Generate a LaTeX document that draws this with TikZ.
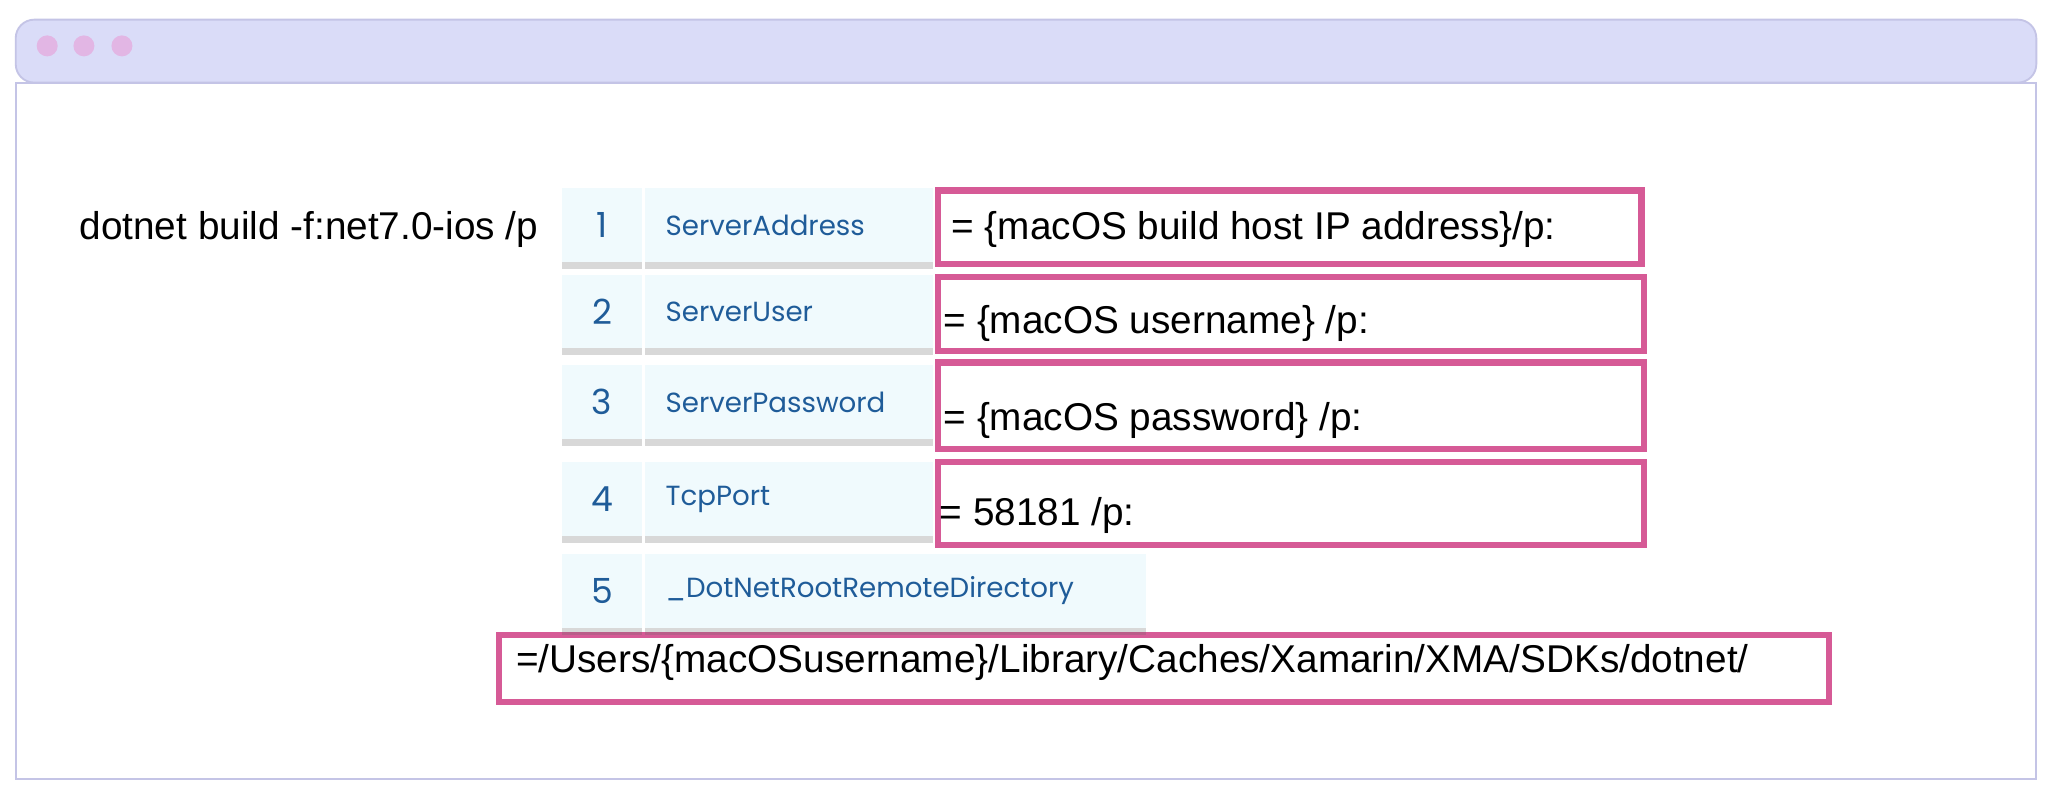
\documentclass[tikz,border=0pt]{standalone}
\usepackage{fontspec}
\setmainfont{Liberation Sans}
\newfontfamily\popfont{Poppins}
\usetikzlibrary{positioning, shadows}
\definecolor{barfill}{HTML}{DADCF8}
\definecolor{barline}{HTML}{C4C4E6}
\definecolor{cellfill}{HTML}{F0FAFD}
\definecolor{keyblue}{HTML}{1F5C99}
\definecolor{hotpink}{HTML}{D65A96}
\definecolor{dotpink}{HTML}{E2B6E4}
\begin{document}
\begin{tikzpicture}[x=0.01cm,y=-0.01cm]
\tikzstyle{cell}=[fill=cellfill,draw=none,inner sep=0pt,anchor=north west,
  drop shadow={shadow xshift=0pt,shadow yshift=-1.5pt,opacity=0.25,fill=black!60}]
\tikzstyle{num}=[cell,minimum width=0.61cm,minimum height=0.56cm,font=\popfont\fontsize{7.5}{9}\selectfont,text=keyblue]
\tikzstyle{key}=[cell,minimum height=0.56cm,text width=1.88cm,align=left,inner xsep=0.16cm,font=\popfont\fontsize{6}{7}\selectfont,text=keyblue]
\tikzstyle{val}=[draw=hotpink,line width=1.4pt,fill=white,anchor=north west,inner sep=0pt]
\tikzstyle{cmd}=[font=\fontsize{8.4}{10}\selectfont,anchor=base west,inner sep=0pt]

\useasboundingbox (0,0) rectangle (1568,607);
\fill[white] (0,0) rectangle (1568,607);

% Draw the window
\draw[barline,fill=white] (12,594) rectangle (1553,63);
\draw[barline,fill=barfill,rounded corners=4pt] (12,63) -- (12,15) -- (1553,15) -- (1553,63) -- cycle;
\foreach \dx in {36,64,93}
  \fill[dotpink] (\dx,35) circle (8);

% Command text
\node[cmd] (cmd) at (60,183) {dotnet build -f:net7.0-ios /p};

% Pink value boxes
\node[val,minimum width=5.36cm,minimum height=0.56cm] (V-1) at (713,143) {};
\node[val,minimum width=5.38cm,minimum height=0.56cm] (V-2) at (713,209) {};
\node[val,minimum width=5.38cm,minimum height=0.66cm] (V-3) at (713,274) {};
\node[val,minimum width=5.38cm,minimum height=0.63cm] (V-4) at (713,350) {};
\node[val,minimum width=10.14cm,minimum height=0.51cm] (V-5) at (378,482) {};

% Draw the numbered cells and property names
\foreach \i/\y/\name in {1/143/ServerAddress,2/209/ServerUser,3/278/ServerPassword,4/352/TcpPort}{
  \node[num] (N-\i) at (428,\y) {\i};
  \node[key] (K-\i) at (491,\y) {\name};
}
\node[num] (N-5) at (428,422) {5};
\node[key,text width=3.5cm] (K-5) at (491,422) {\_DotNetRootRemoteDirectory};

% Values
\node[cmd] at (725,183) {= \{macOS build host IP address\}/p:};
\node[cmd] at (719,254) {= \{macOS username\} /p:};
\node[cmd] at (719,328) {= \{macOS password\} /p:};
\node[cmd] at (716,401) {= 58181 /p:};
\node[cmd] at (393,513) {=/Users/\{macOSusername\}/Library/Caches/Xamarin/XMA/SDKs/dotnet/};
\end{tikzpicture}
\end{document}
